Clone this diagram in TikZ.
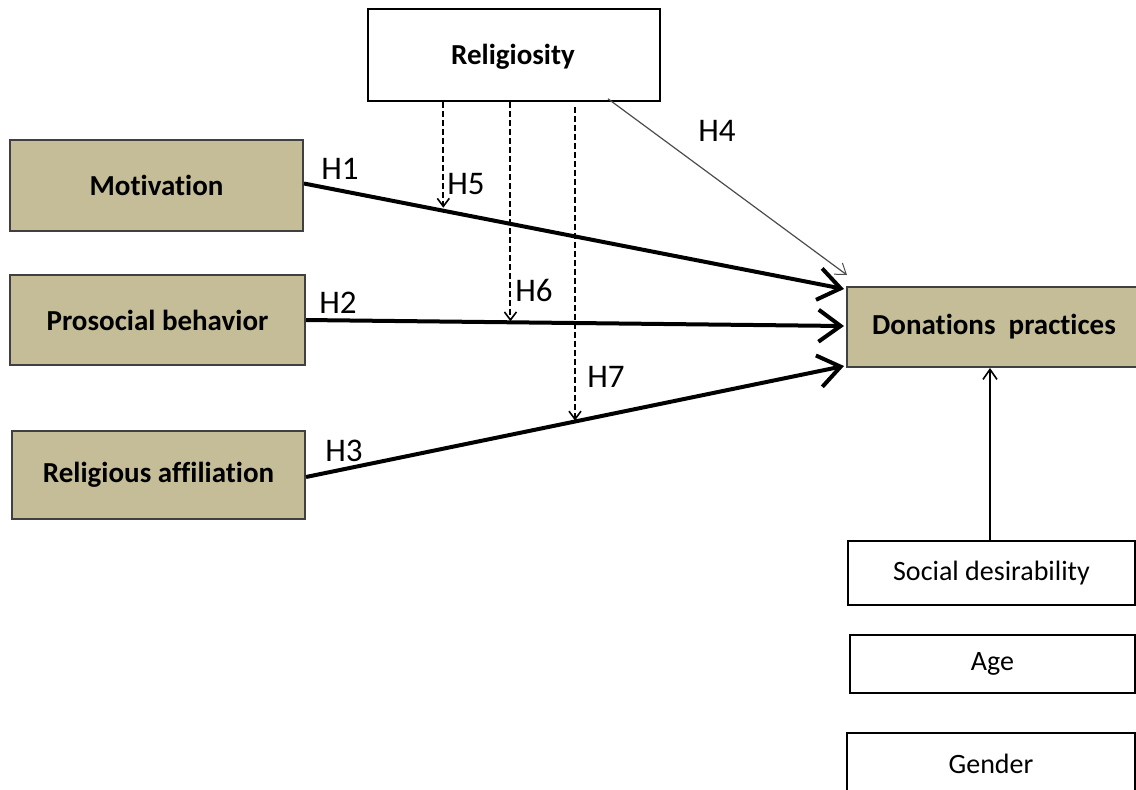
\documentclass[tikz,border=0pt]{standalone}
\usepackage{fontspec}
\setmainfont{Carlito}[Ligatures=NoCommon]
\usetikzlibrary{arrows.meta,calc}
\definecolor{tan}{HTML}{C4BD97}
\definecolor{tanedge}{HTML}{404040}
\tikzset{
  tanbox/.style={draw=tanedge, line width=1pt, fill=tan, inner sep=0pt, font=\fontsize{14.5}{17}\selectfont\bfseries},
  whitebox/.style={draw=black, line width=0.8pt, fill=white, inner sep=0pt, font=\fontsize{14}{17}\selectfont},
  mainarrow/.style={line width=2pt, -{Straight Barb[length=11pt,width=16pt,line width=2pt]}},
  modarrow/.style={line width=1pt, dash pattern=on 3pt off 1.5pt, -{Straight Barb[length=4pt,width=6pt,line width=0.8pt]}},
  directarrow/.style={line width=0.6pt, draw=black!70, -{Straight Barb[length=5pt,width=7pt,line width=0.5pt]}},
  ctrlarrow/.style={line width=0.8pt, -{Straight Barb[length=5pt,width=7pt,line width=0.8pt]}},
  hlabel/.style={font=\fontsize{16.5}{18}\selectfont, inner sep=0pt}
}
\begin{document}
\begin{tikzpicture}[x=0.5pt,y=-0.5pt]
\useasboundingbox (0,0) rectangle (1136,789);
% boxes
\node[whitebox, font=\fontsize{14.5}{17}\selectfont\bfseries, minimum width=146pt, minimum height=46pt] (rel) at (514,55) {};
\node[font=\fontsize{14.5}{17}\selectfont\bfseries, inner sep=0pt] (reltext) at (513,57) {Religiosity};
\node[tanbox, minimum width=146.5pt, minimum height=45.5pt] (mot) at (156.5,185.5) {Motivation};
\node[tanbox, minimum width=147.5pt, minimum height=45pt] (pro) at (157.5,320) {Prosocial behavior};
\node[tanbox, minimum width=146.5pt, minimum height=44pt] (aff) at (158.5,475) {Religious affiliation};
\node[tanbox, minimum width=147pt, minimum height=40pt] (don) at (994,327) {\raisebox{-2pt}{Donations\ \ practices}};
\node[whitebox, minimum width=143.5pt, minimum height=32pt] (soc) at (991.5,573) {Social desirability};
\node[whitebox, minimum width=142.5pt, minimum height=29pt] (age) at (992.5,664) {Age};
\node[whitebox, minimum width=144pt, minimum height=31pt] (gen) at (991,764) {Gender};
% end points on the target box
\coordinate (d1) at ($(don.north west)+(-2,3)$);
\coordinate (d2) at ($(don.west)+(-2,-1)$);
\coordinate (d3) at ($(don.south west)+(-2,-2)$);
\coordinate (d4) at ($(don.north west)+(1,-11)$);
% main paths
\draw[mainarrow] ($(mot.east)+(0,-2)$) -- coordinate[pos=0.258] (p5) (d1);
\draw[mainarrow] (pro.east) -- coordinate[pos=0.38] (p6) (d2);
\draw[mainarrow] ($(aff.east)+(0,2)$) -- coordinate[pos=0.5] (p7) (d3);
% direct effect of religiosity
\draw[directarrow] ($(rel.south)+(94,-3)$) -- (d4);
% moderating paths
\draw[modarrow] (rel.south -| p5) -- ($(p5)+(0,-3)$);
\draw[modarrow] (rel.south -| p6) -- ($(p6)+(0,-1)$);
\draw[modarrow] ($(rel.south -| p7)+(0,5)$) -- ($(p7)+(0,-1)$);
% control
\draw[ctrlarrow] (soc.north -| 990,0) -- (don.south -| 990,0);
% labels
\node[hlabel] (h1) at (340,169) {H1};
\node[hlabel] (h2) at (338,303) {H2};
\node[hlabel] (h3) at (344,451) {H3};
\node[hlabel] (h4) at (717,131) {H4};
\node[hlabel] (h5) at (466,184) {H5};
\node[hlabel] (h6) at (534,290) {H6};
\node[hlabel] (h7) at (606,377) {H7};
\end{tikzpicture}
\end{document}
